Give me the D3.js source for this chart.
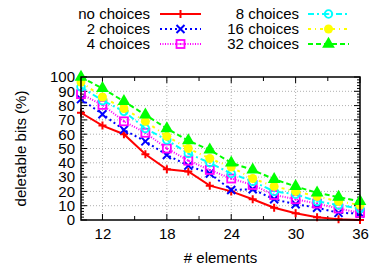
<!DOCTYPE html>
<html>
<head>
<meta charset="utf-8">
<script src="https://cdn.jsdelivr.net/npm/d3@7"></script>
<style>
  body { margin: 0; background: #fff; }
  svg { font-family: "Liberation Sans", Arial, sans-serif; }
</style>
</head>
<body>
<div id="chart"></div>
<script>
// data
const elements = [10, 12, 14, 16, 18, 20, 22, 24, 26, 28, 30, 32, 34, 36];
const noChoices = [75, 66, 60, 46, 35.5, 34, 24, 20, 14.5, 8.6, 4.7, 1.9, 0.5, 0];
const choices2 = [84.5, 74, 63, 55, 45.5, 38, 32.5, 21, 21.5, 14.5, 11, 8.6, 5, 4.5];
const choices4 = [88, 80.5, 69, 61, 50, 41.5, 35, 29, 24.5, 17.5, 14.5, 11.5, 8, 5];
const choices8 = [93, 83.5, 76, 64, 56, 46.5, 40, 32.5, 27, 20, 18, 13, 10.5, 8];
const choices16 = [96.5, 86, 78, 69, 58.5, 50, 43, 37, 29, 23.5, 20, 16.5, 13, 10.5];
const choices32 = [100, 92, 83, 73.5, 64, 55.5, 49, 40, 35, 28.5, 23.5, 19, 16, 13];
const seriesNames = ["no choices", "2 choices", "4 choices", "8 choices", "16 choices", "32 choices"];
const xTicks = [12, 18, 24, 30, 36];
const yTicks = [0, 10, 20, 30, 40, 50, 60, 70, 80, 90, 100];

// styles per series
const styles = [
  {color: "#ff0000", dash: null, marker: "plus"},
  {color: "#0000ff", dash: "2,3", marker: "cross"},
  {color: "#ff00ff", dash: "1,1.5", marker: "square"},
  {color: "#00ffff", dash: "6,3,2,3", marker: "circle"},
  {color: "#ffff00", dash: "3,4,1,4", marker: "dot"},
  {color: "#00ff00", dash: "5,3", marker: "triangle"}
];
const allValues = [noChoices, choices2, choices4, choices8, choices16, choices32];

const fontSize = 15;
const margin = {top: 77, right: 22, bottom: 48, left: 81},
    width = 382 - margin.left - margin.right,
    height = 268 - margin.top - margin.bottom;

const svg = d3.select("#chart")
    .append("svg")
    .attr("width", 382)
    .attr("height", 268);

const g = svg.append("g")
    .attr("transform", `translate(${margin.left},${margin.top})`);

const x = d3.scaleLinear().domain([10, 36]).range([0, width]);
const y = d3.scaleLinear().domain([0, 100]).range([height, 0]);

// grid lines
g.append("g")
    .selectAll("line")
    .data(yTicks.slice(1, -1))
    .enter().append("line")
    .attr("x1", 0).attr("x2", width)
    .attr("y1", d => y(d)).attr("y2", d => y(d))
    .attr("stroke", "#b0b0b0").attr("stroke-width", 1)
    .attr("stroke-dasharray", "1,2");
g.append("g")
    .selectAll("line")
    .data(xTicks.slice(0, -1))
    .enter().append("line")
    .attr("x1", d => x(d)).attr("x2", d => x(d))
    .attr("y1", 0).attr("y2", height)
    .attr("stroke", "#b0b0b0").attr("stroke-width", 1)
    .attr("stroke-dasharray", "1,2");

// tick marks (inside, on all four sides)
const xMajor = d3.range(12, 37, 3);
const yMinor = d3.range(0, 101, 2);
const ticks = g.append("g").attr("stroke", "#000");
xMajor.forEach(v => {
  const len = xTicks.includes(v) ? 6 : 4;
  ticks.append("line").attr("x1", x(v)).attr("x2", x(v)).attr("y1", height).attr("y2", height - len);
  ticks.append("line").attr("x1", x(v)).attr("x2", x(v)).attr("y1", 0).attr("y2", len);
});
yMinor.forEach(v => {
  const len = v % 10 === 0 ? 6 : 3;
  ticks.append("line").attr("x1", 0).attr("x2", len).attr("y1", y(v)).attr("y2", y(v));
  ticks.append("line").attr("x1", width).attr("x2", width - len).attr("y1", y(v)).attr("y2", y(v));
});

// axes labels
const xAxis = g.append("g")
    .attr("transform", `translate(0,${height})`)
    .call(d3.axisBottom(x).tickValues(xTicks).tickSize(0).tickPadding(8));
xAxis.select(".domain").remove();
xAxis.selectAll("text").attr("font-size", fontSize).attr("font-family", "Liberation Sans, Arial, sans-serif").attr("fill", "#000");

const yAxis = g.append("g")
    .call(d3.axisLeft(y).tickValues(yTicks).tickSize(0).tickPadding(6));
yAxis.select(".domain").remove();
yAxis.selectAll("text").attr("font-size", fontSize).attr("font-family", "Liberation Sans, Arial, sans-serif").attr("fill", "#000");

svg.append("text")
    .attr("x", margin.left + width / 2)
    .attr("y", 263)
    .attr("text-anchor", "middle")
    .attr("font-size", fontSize)
    .text("# elements");

svg.append("text")
    .attr("transform", `translate(26,${margin.top + height / 2}) rotate(-90)`)
    .attr("text-anchor", "middle")
    .attr("font-size", fontSize)
    .text("deletable bits (%)");

// marker drawing
function drawMarker(sel, type, color) {
  const s = 4;
  if (type === "plus") {
    sel.append("path").attr("d", `M${-s},0H${s}M0,${-s}V${s}`)
      .attr("stroke", color).attr("stroke-width", 2).attr("fill", "none");
  } else if (type === "cross") {
    sel.append("path").attr("d", `M${-s},${-s}L${s},${s}M${-s},${s}L${s},${-s}`)
      .attr("stroke", color).attr("stroke-width", 2).attr("fill", "none");
  } else if (type === "square") {
    sel.append("rect").attr("x", -s).attr("y", -s).attr("width", 2 * s).attr("height", 2 * s)
      .attr("stroke", color).attr("stroke-width", 1.8).attr("fill", "none");
    sel.append("rect").attr("x", -1).attr("y", -1).attr("width", 2).attr("height", 2).attr("fill", color);
  } else if (type === "circle") {
    sel.append("circle").attr("r", 3.8)
      .attr("stroke", color).attr("stroke-width", 1.8).attr("fill", "none");
    sel.append("circle").attr("r", 0.9).attr("fill", color);
  } else if (type === "dot") {
    sel.append("circle").attr("r", 4.5).attr("fill", color);
  } else if (type === "triangle") {
    sel.append("path").attr("d", d3.symbol(d3.symbolTriangle, 70)())
      .attr("fill", color);
  }
}

// lines and markers
const line = d3.line().x(d => x(d[0])).y(d => y(d[1]));
allValues.forEach((vals, i) => {
  const st = styles[i];
  const pts = elements.map((e, j) => [e, vals[j]]);
  g.append("path")
      .datum(pts)
      .attr("d", line)
      .attr("fill", "none")
      .attr("stroke", st.color)
      .attr("stroke-width", 2)
      .attr("stroke-dasharray", st.dash);
  g.selectAll(null)
      .data(pts)
      .enter().append("g")
      .attr("transform", d => `translate(${x(d[0])},${y(d[1])})`)
      .each(function() { drawMarker(d3.select(this), st.marker, st.color); });
});

// frame
g.append("rect")
    .attr("width", width).attr("height", height)
    .attr("fill", "none").attr("stroke", "#000").attr("stroke-width", 1.5);

// legend
const legend = svg.append("g").attr("font-size", fontSize);
seriesNames.forEach((name, i) => {
  const col = Math.floor(i / 3), row = i % 3;
  const tx = col === 0 ? 150 : 299;
  const lx = col === 0 ? 160 : 308;
  const cy = 14 + row * 15;
  legend.append("text")
      .attr("x", tx).attr("y", cy + 5)
      .attr("text-anchor", "end")
      .text(name);
  legend.append("line")
      .attr("x1", lx).attr("x2", lx + 41)
      .attr("y1", cy).attr("y2", cy)
      .attr("stroke", styles[i].color)
      .attr("stroke-width", 2)
      .attr("stroke-dasharray", styles[i].dash);
  const m = legend.append("g").attr("transform", `translate(${lx + 20.5},${cy})`);
  drawMarker(m, styles[i].marker, styles[i].color);
});
</script>
</body>
</html>
